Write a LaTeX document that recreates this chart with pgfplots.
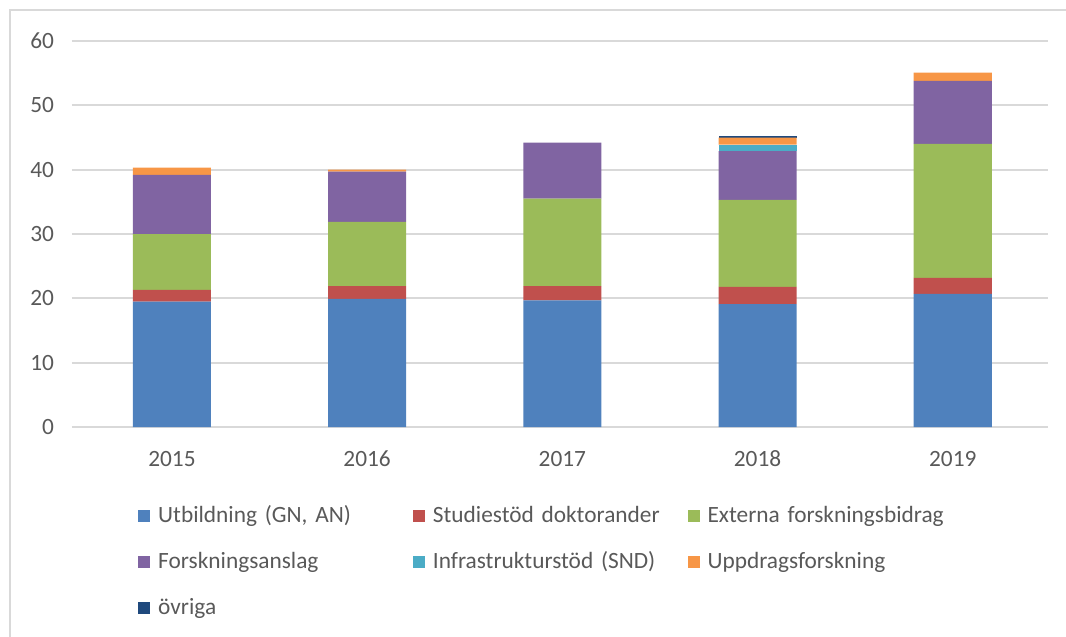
\documentclass[border=0pt]{standalone}
\usepackage{fontspec}
\setmainfont{Carlito}
\usepackage{pgfplots}
\pgfplotsset{compat=1.18}
\definecolor{utb}{HTML}{4F81BD}
\definecolor{stud}{HTML}{C0504D}
\definecolor{ext}{HTML}{9BBB59}
\definecolor{forsk}{HTML}{8064A2}
\definecolor{infra}{HTML}{4BACC6}
\definecolor{uppd}{HTML}{F79646}
\definecolor{ovr}{HTML}{1F497D}
\definecolor{gridgray}{HTML}{D9D9D9}
\definecolor{textgray}{HTML}{595959}

\pgfplotsset{
  sqlegend/.style={legend image code/.code={\fill[##1] (0pt,0.3pt) rectangle (9pt,9.3pt);}},
}

\begin{document}
\begin{tikzpicture}
\useasboundingbox (-54pt,-156.75pt) rectangle (745.5pt,320.25pt);
\draw[line width=1.5pt, gridgray] (-46.5pt,-160pt) -- (-46.5pt,312.75pt) -- (750pt,312.75pt);
\begin{axis}[
  at={(0pt,0pt)}, anchor=south west,
  scale only axis,
  width=732pt, height=289.5pt,
  ybar stacked, bar width=0.4, bar shift=0pt,
  xmin=-0.512, xmax=4.488,
  ymin=0, ymax=60,
  ytick={0,10,...,60},
  xtick={0,1,2,3,4},
  xticklabels={2015,2016,2017,2018,2019},
  major tick length=0pt,
  axis line style={draw=none},
  ymajorgrids,
  grid style={gridgray, line width=1.5pt},
  font=\fontsize{17.5pt}{21pt}\selectfont,
  tick label style={font=\fontsize{17.5pt}{21pt}\selectfont, text=textgray},
  /pgf/number format/assume math mode=true,
  yticklabel style={xshift=-10pt},
  xticklabel style={text height=12pt, text depth=0pt, yshift=-14pt},
  legend columns=3,
  legend style={
    draw=none, fill=none, inner sep=0pt,
    at={(0.0676,-0.205)}, anchor=north west,
    font=\fontsize{17.5pt}{21pt}\selectfont, text=textgray,
    nodes={inner xsep=0pt, inner ysep=0pt, text width=191pt, align=left,
           text height=12pt, text depth=4pt, anchor=base west},
    row sep=18.5pt,
    /tikz/every odd column/.append style={column sep=6pt},
  },
]
\addplot[fill=utb, draw=none, sqlegend] coordinates {(0,19.5) (1,19.9) (2,19.7) (3,19.1) (4,20.7)};
\addlegendentry{Utbildning (GN, AN)}
\addplot[fill=stud, draw=none, sqlegend] coordinates {(0,1.8) (1,2.0) (2,2.2) (3,2.7) (4,2.5)};
\addlegendentry{Studiestöd doktorander}
\addplot[fill=ext, draw=none, sqlegend] coordinates {(0,8.7) (1,10.0) (2,13.6) (3,13.5) (4,20.8)};
\addlegendentry{Externa forskningsbidrag}
\addplot[fill=forsk, draw=none, sqlegend] coordinates {(0,9.2) (1,7.8) (2,8.7) (3,7.6) (4,9.8)};
\addlegendentry{Forskningsanslag}
\addplot[fill=infra, draw=none, sqlegend] coordinates {(0,0) (1,0) (2,0) (3,1.0) (4,0)};
\addlegendentry{Infrastrukturstöd (SND)}
\addplot[fill=uppd, draw=none, sqlegend] coordinates {(0,1.1) (1,0.3) (2,0) (3,1.1) (4,1.3)};
\addlegendentry{Uppdragsforskning}
\addplot[fill=ovr, draw=none, sqlegend] coordinates {(0,0) (1,0) (2,0) (3,0.3) (4,0)};
\addlegendentry{övriga}
\end{axis}
\end{tikzpicture}
\end{document}
